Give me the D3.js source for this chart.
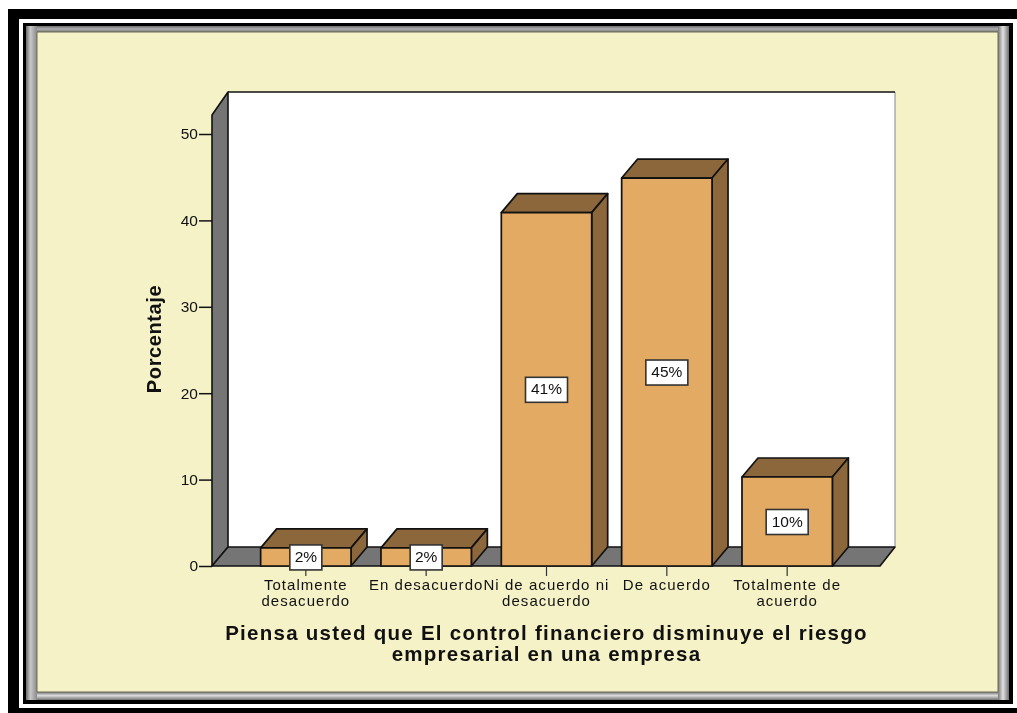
<!DOCTYPE html>
<html><head><meta charset="utf-8">
<script src="https://cdnjs.cloudflare.com/ajax/libs/d3/7.8.5/d3.min.js"></script>
<style>html,body{margin:0;padding:0;background:#fff}svg{display:block;filter:blur(0.5px)}text{font-family:"Liberation Sans",Arial,sans-serif;fill:#111}</style>
</head><body><svg id="c" width="1017" height="713"></svg>
<script>
const categories=[["Totalmente","desacuerdo"],["En desacuerdo"],["Ni de acuerdo ni","desacuerdo"],["De acuerdo"],["Totalmente de","acuerdo"]];
const values=[2.1,2.1,40.9,44.9,10.3];
const labels=["2%","2%","41%","45%","10%"];
const ticks=[0,10,20,30,40,50];
const titleLines=["Piensa usted que El control financiero disminuye el riesgo","empresarial en una empresa"];
const yTitle="Porcentaje";

const svg=d3.select("#c");
const R=(x,y,w,h,f)=>svg.append("rect").attr("x",x).attr("y",y).attr("width",w).attr("height",h).attr("fill",f);
// outer frame
R(8,9,1009,704,"#000");
R(19,19,998,689,"#fff");
R(23,23,990,681,"#000");
const defs=svg.append("defs");
function grad(id,x2,y2,stops){const g=defs.append("linearGradient").attr("id",id).attr("x1",0).attr("y1",0).attr("x2",x2).attr("y2",y2);
 stops.forEach(s=>g.append("stop").attr("offset",s[0]).attr("stop-color",s[1]));}
grad("gl",1,0,[[0,"#6d6d6d"],[.4,"#c8c8c8"],[1,"#8a8a8a"]]);
grad("gr",1,0,[[0,"#777"],[.45,"#e2e2e2"],[1,"#707070"]]);
grad("gt",0,1,[[0,"#6d6d6d"],[.5,"#b0b0b0"],[1,"#777"]]);
grad("gb",0,1,[[0,"#777"],[.45,"#dcdcdc"],[1,"#707070"]]);
R(26,26,983,6,"url(#gt)");
R(26,692,983,8,"url(#gb)");
R(26,26,11,674,"url(#gl)");
R(998,26,11,674,"url(#gr)");
R(37,32,961,660,"#f5f2c8");
svg.append("path").attr("d","M37,692V32H998V692H37").attr("fill","none").attr("stroke","#6a6a55").attr("stroke-width",1);

const y=d3.scaleLinear().domain([0,50]).range([566,134]);
const x=d3.scaleBand().domain(d3.range(5)).range([245,848]).paddingInner(30/120.5).paddingOuter(0.13);
const dx=16,dy=19,axisL=212,axisR=880,plotTop=y(50)-23;
const line=d3.line();
const poly=(pts,f,sw=1.6)=>svg.append("path").attr("d",line(pts)+"Z").attr("fill",f).attr("stroke","#111").attr("stroke-width",sw).attr("stroke-linejoin","round");

// walls
svg.append("path").attr("d",line([[axisL+dx,plotTop-19],[axisR+dx-1,plotTop-19],[axisR+dx-1,y(0)-dy],[axisL+dx,y(0)-dy]])+"Z").attr("fill","#fff");
svg.append("path").attr("d",`M${axisR+dx-1},${plotTop-19}V${y(0)-dy}`).attr("fill","none").attr("stroke","#999").attr("stroke-width",1.2);
svg.append("path").attr("d",`M${axisL+dx},${plotTop-19}H${axisR+dx-1}`).attr("fill","none").attr("stroke","#111").attr("stroke-width",1.4);
poly([[axisL,plotTop+4],[axisL+dx,plotTop-19],[axisL+dx,y(0)-dy],[axisL,y(0)]],"#757575");
poly([[axisL,y(0)],[axisL+dx,y(0)-dy],[axisR+dx-1,y(0)-dy],[axisR,y(0)]],"#757575");

// y axis
const ga=svg.append("g").attr("transform",`translate(${axisL},0)`).call(d3.axisLeft(y).tickValues(ticks).tickSize(13).tickPadding(1));
ga.select(".domain").remove();
ga.selectAll("line").attr("stroke","#111").attr("stroke-width",1.5);
ga.selectAll("text").attr("font-size",15.5).attr("fill","#222");

// bars
const bars=svg.selectAll("g.bar").data(values).join("g").attr("class","bar");
bars.each(function(v,i){
  const g=d3.select(this),x0=x(i),x1=x0+x.bandwidth(),t=y(v),b=y(0);
  const p=(pts,f)=>g.append("path").attr("d",line(pts)+"Z").attr("fill",f).attr("stroke","#111").attr("stroke-width",1.7).attr("stroke-linejoin","round");
  p([[x0,t],[x0+dx,t-dy],[x1+dx,t-dy],[x1,t]],"#8c673c");
  p([[x1,t],[x1+dx,t-dy],[x1+dx,b-dy],[x1,b]],"#8c673c");
  p([[x0,t],[x1,t],[x1,b],[x0,b]],"#e2aa62");
});
// x ticks
svg.selectAll("line.xt").data(d3.range(5)).join("line").attr("x1",i=>x(i)+x.bandwidth()/2).attr("x2",i=>x(i)+x.bandwidth()/2)
 .attr("y1",y(0)).attr("y2",y(0)+10).attr("stroke","#333").attr("stroke-width",1.2);
// value labels
values.forEach((v,i)=>{
  const cx=x(i)+x.bandwidth()/2, cy=(y(0)+y(v))/2;
  const w=v<5?32:42;
  svg.append("rect").attr("x",cx-w/2).attr("y",cy-12).attr("width",w).attr("height",25)
    .attr("fill","#fff").attr("stroke","#333").attr("stroke-width",1.6);
  svg.append("text").attr("x",cx).attr("y",cy+1).attr("text-anchor","middle").attr("dominant-baseline","middle").attr("font-size",15.5).text(labels[i]);
});
// category labels
categories.forEach((c,i)=>{
  const cx=x(i)+x.bandwidth()/2;
  c.forEach((s,k)=>svg.append("text").attr("x",cx).attr("y",590+k*16).attr("text-anchor","middle").attr("font-size",15).attr("letter-spacing",1.05).attr("fill","#222").text(s));
});
// y title
svg.append("text").attr("transform","translate(161,339) rotate(-90)").attr("text-anchor","middle").attr("font-size",20).attr("letter-spacing",0.6).attr("font-weight","bold").text(yTitle);
// x title
titleLines.forEach((s,k)=>svg.append("text").attr("x",546.5).attr("y",640+k*21).attr("text-anchor","middle").attr("font-size",20.5).attr("font-weight","bold").attr("letter-spacing",1.26).text(s));
</script></body></html>
